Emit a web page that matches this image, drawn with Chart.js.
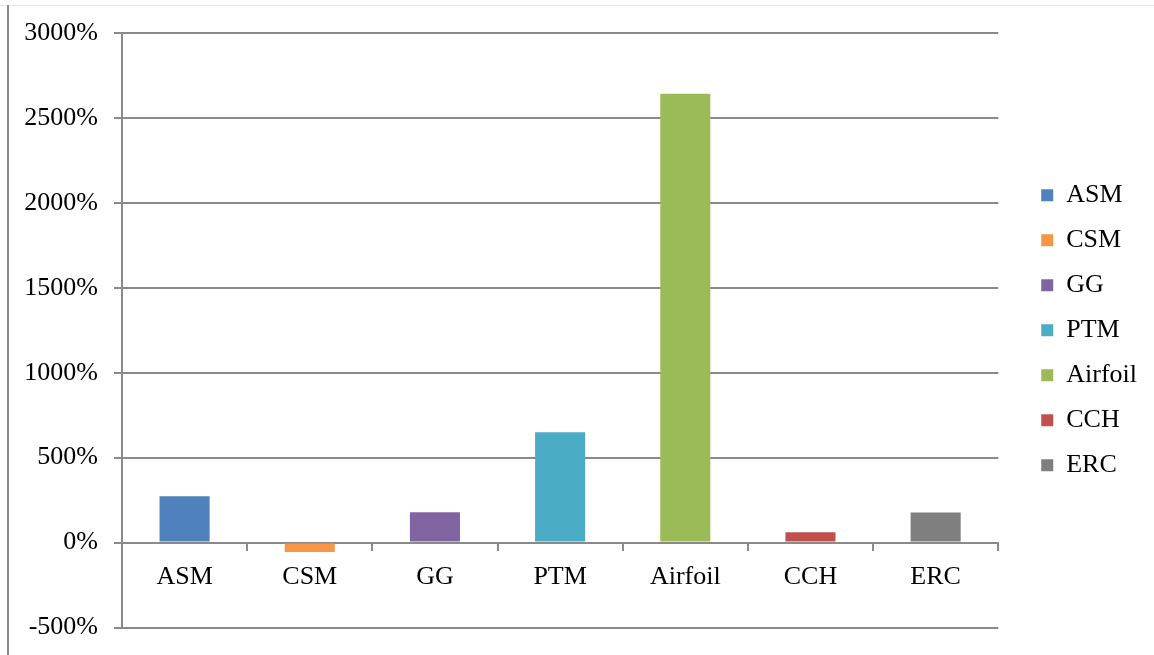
<!DOCTYPE html>
<html>
<head>
<meta charset="utf-8">
<script src="https://cdn.jsdelivr.net/npm/chart.js@4/dist/chart.umd.min.js"></script>
<style>
  html, body { margin: 0; padding: 0; background: #fff; }
  #wrap { position: relative; width: 1154px; height: 655px; }
  #topline { position: absolute; left: 0; top: 5px; width: 1154px; height: 1px; background: #e6e6e6; }
  #leftline { position: absolute; left: 7px; top: 5px; width: 2px; height: 650px; background: #8a8a8a; }
  canvas { position: absolute; left: 0; top: 0; }
</style>
</head>
<body>
<div id="wrap">
  <canvas id="chart" width="1154" height="655"></canvas>
  <div id="topline"></div>
  <div id="leftline"></div>
</div>
<script>
// 數據
const categories = ['ASM', 'CSM', 'GG', 'PTM', 'Airfoil', 'CCH', 'ERC'];
const values = [273, -55, 178, 650, 2643, 61, 177];
const colors = ['#4f81bd', '#f79646', '#8064a2', '#4bacc6', '#9bbb59', '#c0504d', '#7f7f7f'];
const yTicks = [-500, 0, 500, 1000, 1500, 2000, 2500, 3000];

const gridColor = '#8a8a8a';
const font = { family: "'Liberation Serif', 'Times New Roman', serif", size: 26 };

const ctx = document.getElementById('chart').getContext('2d');
new Chart(ctx, {
    type: 'bar',
    data: {
        labels: categories,
        datasets: [{
            data: values,
            backgroundColor: colors,
            barPercentage: 0.4,
            categoryPercentage: 1
        }]
    },
    options: {
        responsive: false,
        animation: false,
        layout: { padding: { left: 0, right: 7, top: 33, bottom: 27.5 } },
        plugins: {
            tooltip: { enabled: false },
            legend: {
                position: 'right',
                labels: {
                    font: font,
                    color: '#000',
                    boxWidth: 12,
                    boxHeight: 12,
                    padding: 19,
                    generateLabels: () => categories.map((c, i) => ({
                        text: c,
                        fillStyle: colors[i],
                        strokeStyle: colors[i],
                        lineWidth: 0,
                        index: i
                    }))
                }
            }
        },
        scales: {
            x: {
                position: { y: 0 },
                offset: true,
                border: { color: gridColor, width: 2 },
                grid: {
                    offset: true,
                    drawOnChartArea: false,
                    drawTicks: true,
                    tickLength: 7,
                    color: gridColor,
                    lineWidth: 2
                },
                ticks: { font: font, color: '#000', padding: 12, maxRotation: 0 },
                afterFit: axis => { axis.paddingTop = 0; axis.paddingBottom = 0; }
            },
            y: {
                min: -500,
                max: 3000,
                afterBuildTicks: axis => { axis.ticks = yTicks.map(v => ({ value: v })); },
                afterFit: axis => {
                    axis.width = 122;
                    axis.paddingTop = 0;
                    axis.paddingBottom = 0;
                },
                border: { color: gridColor, width: 2 },
                grid: { color: gridColor, lineWidth: 2, tickLength: 8 },
                ticks: {
                    font: font,
                    color: '#000',
                    padding: 16,
                    callback: v => v + '%'
                }
            },
            // 圖例與繪圖區之間的空白
            gap: {
                type: 'linear',
                position: 'right',
                afterFit: axis => {
                    axis.width = 24;
                    axis.paddingTop = 0;
                    axis.paddingBottom = 0;
                },
                grid: { display: false },
                border: { display: false },
                ticks: { display: false }
            }
        }
    }
});
</script>
</body>
</html>
